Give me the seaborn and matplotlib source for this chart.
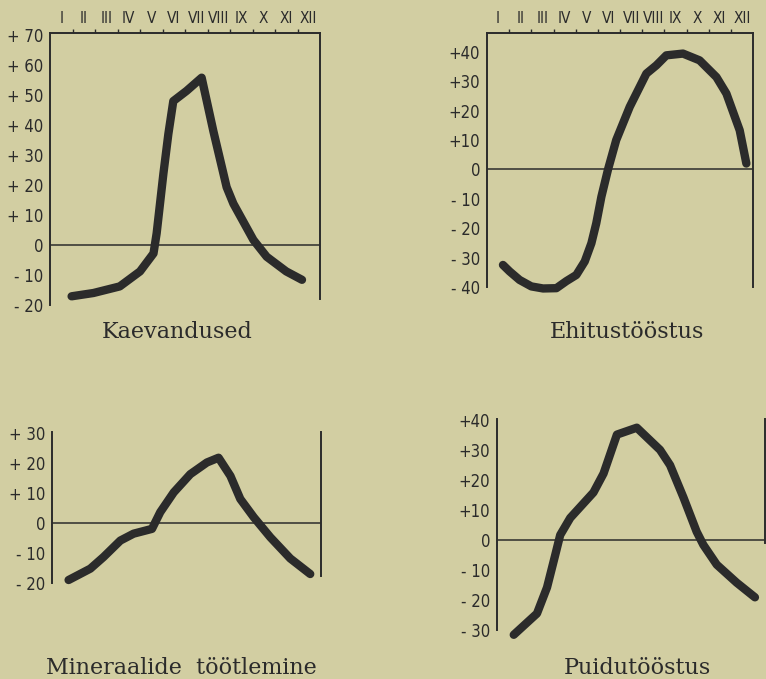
import matplotlib
matplotlib.use("Agg")
import matplotlib.pyplot as plt
from matplotlib import font_manager
from matplotlib.ticker import MultipleLocator, FixedLocator, FuncFormatter
import seaborn as sns

sns.set_style("white")

PAPER = "#d2cea2"
INK = "#2b2b2b"
TITLE_FONT = ["DejaVu Serif"]
W, H = 766, 679

# a narrow face for the tick labels, if one is there
cond = [f for f in font_manager.fontManager.ttflist
        if f.name in ("Liberation Sans Narrow", "DejaVu Sans") and f.stretch == "condensed"
        or f.name == "Liberation Sans Narrow"]
if cond:
    TICK_PROPS = dict(family=cond[0].name, stretch=cond[0].stretch)
else:
    TICK_PROPS = dict(family="DejaVu Sans")

MONTHS = ["I", "II", "III", "IV", "V", "VI", "VII", "VIII", "IX", "X", "XI", "XII"]

# month position (0 = start of January, 12 = end of December) and deviation in %
kaev_x = [0.96, 1.93, 3.1, 4.0, 4.6, 4.74, 5.04, 5.26, 5.48, 6.07, 6.74,
          7.26, 7.85, 8.15, 9.04, 9.63, 10.5, 11.2]
kaev_y = [-17.1, -16.0, -13.8, -8.8, -2.8, 3.9, 23.8, 37.0, 48.0, 51.4, 55.8,
          38.0, 19.3, 13.8, 1.7, -3.9, -8.8, -11.6]

ehit_x = [0.72, 1.02, 1.47, 2.0, 2.53, 3.13, 3.58, 4.03, 4.41, 4.71, 4.93,
          5.16, 5.46, 5.83, 6.44, 7.19, 7.64, 8.09, 8.84, 9.59, 10.35, 10.8,
          11.4, 11.7]
ehit_y = [-32.5, -34.7, -37.6, -39.8, -40.5, -40.4, -38.0, -35.9, -31.3, -25.1, -18.3,
          -9.3, 0.0, 10.0, 21.3, 32.6, 35.4, 38.8, 39.4, 37.1, 31.4, 25.8,
          13.3, 2.0]

mine_x = [0.74, 1.71, 2.3, 3.05, 3.64, 4.46, 4.83, 5.43, 6.17, 6.91, 7.43,
          7.96, 8.4, 9.0, 9.74, 10.63, 11.52]
mine_y = [-19.0, -15.2, -11.3, -5.8, -3.5, -1.9, 3.7, 10.3, 16.4, 20.3, 21.9,
          15.8, 8.1, 2.0, -4.7, -11.8, -17.0]

puit_x = [0.75, 1.79, 2.24, 2.61, 2.83, 3.28, 4.32, 4.77, 5.37, 6.26, 7.3,
          7.75, 8.35, 8.94, 9.24, 9.84, 10.73, 11.55]
puit_y = [-31.6, -24.5, -15.8, -4.9, 1.7, 7.4, 15.9, 22.2, 35.2, 37.5, 30.1,
          25.0, 14.2, 2.8, -1.6, -8.2, -14.2, -19.1]


def px_axes(fig, left, top, right, bottom):
    return fig.add_axes([left / W, 1 - bottom / H, (right - left) / W, (bottom - top) / H])


def sign_fmt(spaced):
    gap = " " if spaced else ""

    def f(v, pos):
        v = int(round(v))
        if v > 0:
            return f"+{gap}{v}"
        if v < 0:
            return f"- {abs(v)}"
        return "0"
    return FuncFormatter(f)


def panel(ax, x, y, ylim, spaced, months, right_bounds, title, title_xy):
    fig = ax.figure
    ax.set_facecolor(PAPER)
    sns.lineplot(x=x, y=y, ax=ax, color=INK, lw=6, sort=False, estimator=None,
                 solid_capstyle="round", solid_joinstyle="round", clip_on=False)
    ax.axhline(0, color=INK, lw=1.1)
    ax.set_xlim(0, 12)
    ax.set_ylim(*ylim)
    ax.set_xlabel("")
    ax.set_ylabel("")

    for s in ["left", "right", "top", "bottom"]:
        ax.spines[s].set_color(INK)
        ax.spines[s].set_linewidth(1.4)
    ax.spines["bottom"].set_visible(False)
    ax.spines["right"].set_bounds(*right_bounds)
    ax.spines["left"].set_bounds(ylim[0], ylim[1])

    ax.yaxis.set_major_locator(MultipleLocator(10))
    ax.yaxis.set_minor_locator(MultipleLocator(5))
    ax.yaxis.set_major_formatter(sign_fmt(spaced))
    ax.tick_params(axis="y", which="major", direction="out", length=4, width=1.2,
                   color=INK, labelcolor=INK, labelsize=12, pad=1)
    ax.tick_params(axis="y", which="minor", direction="out", length=3, width=1.0, color=INK)
    for lab in ax.get_yticklabels():
        lab.set(**TICK_PROPS)

    if months:
        ax.xaxis.set_ticks_position("top")
        ax.xaxis.set_major_locator(FixedLocator([i + 0.5 for i in range(12)]))
        ax.set_xticklabels(MONTHS, **TICK_PROPS)
        ax.xaxis.set_minor_locator(FixedLocator(list(range(1, 12))))
        ax.tick_params(axis="x", which="major", length=0, labelsize=11,
                       labelcolor=INK, pad=5)
        ax.tick_params(axis="x", which="minor", direction="out", length=3,
                       width=1.0, color=INK)
    else:
        ax.spines["top"].set_visible(False)
        ax.set_xticks([])

    fig.text(title_xy[0] / W, 1 - title_xy[1] / H, title, family=TITLE_FONT,
             fontsize=16, color=INK, ha="center", va="baseline")


fig = plt.figure(figsize=(W / 100, H / 100), dpi=100)
fig.patch.set_facecolor(PAPER)

ax1 = px_axes(fig, 50, 33, 320, 305)
panel(ax1, kaev_x, kaev_y, (-20, 70.7), True, True, (-18, 70.7),
      "Kaevandused", (177, 338))

ax2 = px_axes(fig, 487, 33, 753, 287)
panel(ax2, ehit_x, ehit_y, (-40, 46.4), False, True, (-40, 46.4),
      "Ehitustööstus", (627, 338))

ax3 = px_axes(fig, 52, 432, 321, 583)
panel(ax3, mine_x, mine_y, (-20, 30.5), True, False, (-17.5, 30.5),
      "Mineraalide  töötlemine", (181, 674))

ax4 = px_axes(fig, 497, 419, 765, 630)
panel(ax4, puit_x, puit_y, (-30, 40.4), False, False, (-1, 40.4),
      "Puidutööstus", (637, 674))

fig.savefig("out.png", dpi=100, facecolor=PAPER)
